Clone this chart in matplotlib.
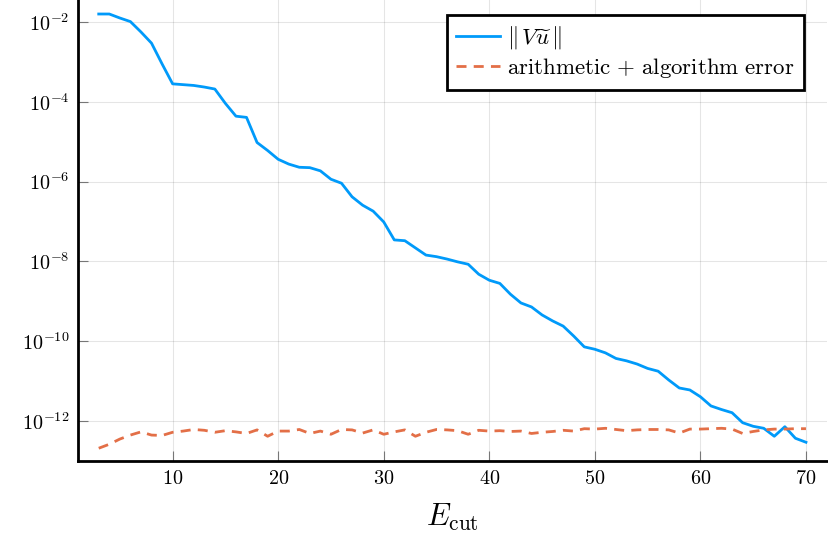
import numpy as np
import matplotlib.pyplot as plt

plt.rcParams["mathtext.fontset"] = "cm"
plt.rcParams["font.family"] = ["DejaVu Serif"]

# cutoff energies
e_cut = list(range(3, 71))

# log10 of ||V u~||
log_vu = [
    -1.80, -1.80, -1.90, -1.99, -2.25, -2.53, -3.05, -3.55, -3.57, -3.59,
    -3.63, -3.68, -4.04, -4.36, -4.39, -5.02, -5.22, -5.44, -5.56, -5.64,
    -5.65, -5.73, -5.94, -6.04, -6.38, -6.59, -6.74, -7.01, -7.46, -7.48,
    -7.66, -7.84, -7.88, -7.94, -8.01, -8.07, -8.32, -8.47, -8.55, -8.82,
    -9.04, -9.14, -9.34, -9.49, -9.62, -9.87, -10.14, -10.20, -10.29, -10.43,
    -10.49, -10.57, -10.68, -10.75, -10.97, -11.17, -11.22, -11.39, -11.62, -11.71,
    -11.79, -12.04, -12.13, -12.18, -12.38, -12.14, -12.43, -12.53,
]

# log10 of arithmetic + algorithm error
log_err = [
    -12.68, -12.58, -12.45, -12.35, -12.27, -12.35, -12.36, -12.28, -12.25, -12.21,
    -12.23, -12.28, -12.24, -12.27, -12.31, -12.22, -12.38, -12.25, -12.25, -12.21,
    -12.31, -12.25, -12.33, -12.21, -12.22, -12.30, -12.22, -12.33, -12.27, -12.22,
    -12.38, -12.28, -12.21, -12.22, -12.24, -12.33, -12.23, -12.25, -12.24, -12.26,
    -12.25, -12.31, -12.28, -12.26, -12.23, -12.25, -12.19, -12.20, -12.18, -12.21,
    -12.24, -12.22, -12.21, -12.21, -12.22, -12.30, -12.20, -12.20, -12.19, -12.18,
    -12.20, -12.31, -12.26, -12.22, -12.20, -12.20, -12.19, -12.19,
]

labels = [r"$\Vert\, V\widetilde{u}\,\Vert$",
          r"$\mathrm{arithmetic}\ {+}\ \mathrm{algorithm}\ \mathrm{error}$"]
xticks = [10, 20, 30, 40, 50, 60, 70]
yexps = [-12, -10, -8, -6, -4, -2]

fig = plt.figure(figsize=(8.29, 5.37), dpi=100)
ax = fig.add_axes([0.0935, 0.1415, 0.9043, 0.8585])

ax.plot(e_cut, 10.0 ** np.array(log_vu), color="#009AFA", lw=2, label=labels[0])
ax.plot(e_cut, 10.0 ** np.array(log_err), color="#E36F47", lw=2,
        linestyle=(0, (3.6, 2.6)), label=labels[1])

ax.set_yscale("log")
ax.set_xlim(0.99, 72.01)
ax.set_ylim(10 ** -13.0, 10 ** -1.449)
ax.set_xticks(xticks, labels=[f"${t}$" for t in xticks])
ax.set_yticks([10.0 ** e for e in yexps], labels=[f"$10^{{{e}}}$" for e in yexps])
ax.minorticks_off()
ax.tick_params(direction="in", length=7, width=0.8, color="#777777",
               labelsize=14.5, pad=6)
ax.grid(True, color="black", alpha=0.1, lw=0.8)

for s in ["top", "right"]:
    ax.spines[s].set_visible(False)
for s in ["left", "bottom"]:
    ax.spines[s].set_linewidth(2)

ax.set_xlabel(r"$E_{\mathrm{cut}}$", fontsize=22, labelpad=10)

leg = ax.legend(loc="upper right", bbox_to_anchor=(0.969, 0.967), borderaxespad=0,
                fontsize=16.5, handlelength=1.95, handletextpad=0.3, fancybox=False,
                framealpha=1, edgecolor="black", borderpad=0.4, labelspacing=0.22)
leg.get_frame().set_linewidth(2)

fig.savefig("out.png", dpi=100)
